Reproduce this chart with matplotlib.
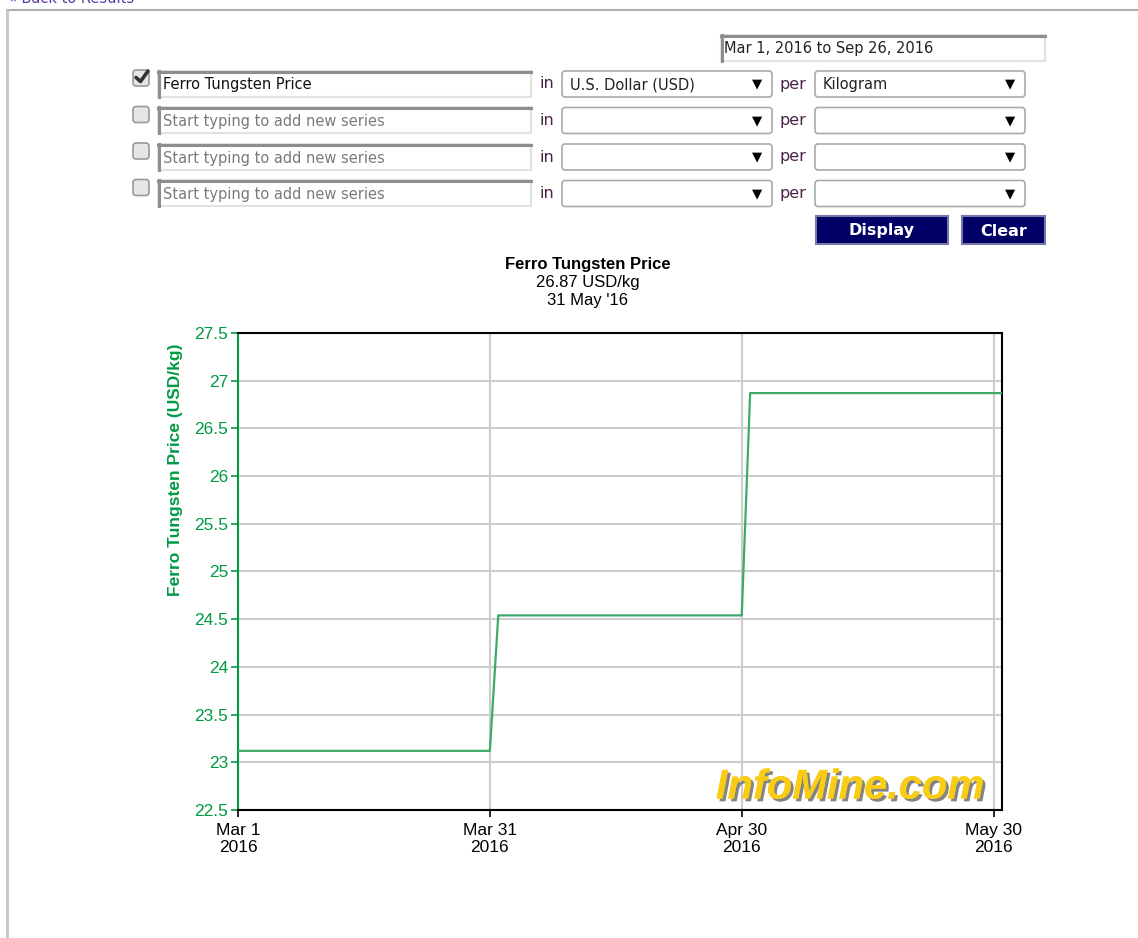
import matplotlib
matplotlib.use("Agg")
import matplotlib.pyplot as plt
import matplotlib.patheffects as pe
from matplotlib.patches import Rectangle, FancyBboxPatch
import pandas as pd

''' --------------- data --------------- '''
dates = pd.to_datetime(["2016-03-01", "2016-03-31", "2016-04-01",
                        "2016-04-30", "2016-05-01", "2016-05-31"])
prices = [23.12, 23.12, 24.54, 24.54, 26.87, 26.87]

tick_dates = pd.to_datetime(["2016-03-01", "2016-03-31", "2016-04-30", "2016-05-30"])
tick_labels = ["Mar 1\n2016", "Mar 31\n2016", "Apr 30\n2016", "May 30\n2016"]
y_ticks = [22.5, 23, 23.5, 24, 24.5, 25, 25.5, 26, 26.5, 27, 27.5]
y_labels = ["22.5", "23", "23.5", "24", "24.5", "25", "25.5", "26", "26.5", "27", "27.5"]

series_names = ["Ferro Tungsten Price", "Start typing to add new series",
                "Start typing to add new series", "Start typing to add new series"]
currencies = ["U.S. Dollar (USD)", "", "", ""]
units = ["Kilogram", "", "", ""]
checked = [True, False, False, False]
date_range = "Mar 1, 2016 to Sep 26, 2016"

GREEN = "#009a44"
LINE = "#3fa96a"
FORM_FONT = "DejaVu Sans"
CHART_FONT = "Liberation Sans"

W, H = 1138, 938
fig = plt.figure(figsize=(W / 100, H / 100), dpi=100)

''' --------------- page / form (pixel coords) --------------- '''
bg = fig.add_axes([0, 0, 1, 1])
bg.set_xlim(0, W)
bg.set_ylim(H, 0)
bg.axis("off")

# link at the very top, cut by the page edge as in the screenshot
bg.text(8, 6, "\u00ab Back to Results", fontsize=10.5, color="#5b3aa8",
        family=FORM_FONT, va="bottom", clip_on=True)
bg.plot([7, W], [10, 10], color="#b0b0b0", lw=1.5)
bg.plot([7.5, 7.5], [10, H], color="#c4c4c4", lw=2)


def inset_box(x0, y0, x1, y1):
    bg.add_patch(Rectangle((x0, y0), x1 - x0, y1 - y0, fc="white",
                           ec="#e2e2e2", lw=1.5))
    bg.plot([x0, x1], [y0 + 1, y0 + 1], color="#8e8e8e", lw=2.2)
    bg.plot([x0 + 1, x0 + 1], [y0, y1], color="#8e8e8e", lw=2.2)


def select_box(x0, y0, x1, y1, label):
    bg.add_patch(FancyBboxPatch((x0, y0), x1 - x0, y1 - y0,
                                boxstyle="round,pad=0,rounding_size=3",
                                fc="white", ec="#a9a9a9", lw=1.2))
    if label:
        bg.text(x0 + 8, (y0 + y1) / 2 + 1, label, fontsize=10.5, color="#222222",
                family=FORM_FONT, va="center")
    bg.text(x1 - 15, (y0 + y1) / 2, "\u25bc", fontsize=9.5, color="black",
            family="DejaVu Sans", va="center", ha="center")


# date range box
inset_box(721, 35, 1045, 61)
bg.text(724, 48, date_range, fontsize=10.5, color="#222222",
        family=FORM_FONT, va="center")

row_y = [84, 120.5, 157, 193.5]
for i, yc in enumerate(row_y):
    # checkbox
    bg.add_patch(FancyBboxPatch((133, yc - 14), 16, 16,
                                boxstyle="round,pad=0,rounding_size=3",
                                fc="#e6e6e6", ec="#9a9a9a", lw=1.2))
    if checked[i]:
        bg.plot([136, 140.5, 148], [yc - 6.5, yc - 2.5, yc - 13],
                color="#333333", lw=2.6, solid_capstyle="round")
    # series input
    inset_box(158, yc - 13, 531, yc + 13)
    bg.text(163, yc + 1, series_names[i], fontsize=10.5,
            color="#111111" if checked[i] else "#7a7a7a",
            family=FORM_FONT, va="center")
    bg.text(540, yc, "in", fontsize=11.5, color="#4a2448", family=FORM_FONT, va="center")
    select_box(562, yc - 13, 772, yc + 13, currencies[i])
    bg.text(780, yc, "per", fontsize=11.5, color="#4a2448", family=FORM_FONT, va="center")
    select_box(815, yc - 13, 1025, yc + 13, units[i])

# buttons
for x0, x1, lab in [(816, 948, "Display"), (962, 1045, "Clear")]:
    bg.add_patch(Rectangle((x0, 216), x1 - x0, 28, fc="#000066",
                           ec="#7777aa", lw=1.5))
    bg.text((x0 + x1) / 2, 231, lab, fontsize=11.5, color="white",
            weight="bold", family=FORM_FONT, ha="center", va="center")

# chart title
bg.text(588, 264, "Ferro Tungsten Price", fontsize=12, weight="bold",
        family=CHART_FONT, ha="center", va="center")
bg.text(588, 283, "26.87 USD/kg", fontsize=12, family=CHART_FONT,
        ha="center", va="center")
bg.text(588, 301, "31 May '16", fontsize=12, family=CHART_FONT,
        ha="center", va="center")

''' --------------- chart --------------- '''
ax = fig.add_axes([238 / W, 1 - 810 / H, (1002 - 238) / W, (810 - 333) / H])
ax.set_facecolor("white")
ax.plot(dates, prices, color=LINE, lw=1.6, zorder=3)

ax.set_xlim(pd.Timestamp("2016-03-01"), pd.Timestamp("2016-05-31"))
ax.set_ylim(22.5, 27.5)
ax.set_xticks(tick_dates)
ax.set_xticklabels(tick_labels, fontsize=12.5, family=CHART_FONT)
ax.set_yticks(y_ticks)
ax.set_yticklabels(y_labels, fontsize=12.5, family=CHART_FONT, color=GREEN)
ax.tick_params(axis="x", length=5, width=1.2, color="black", pad=4)
ax.tick_params(axis="y", length=5, width=1.2, color=GREEN, pad=2)
ax.grid(True, color="#cccccc", lw=1.5, zorder=0)
ax.set_axisbelow(True)

for s in ["top", "right", "bottom"]:
    ax.spines[s].set_color("black")
    ax.spines[s].set_linewidth(1.5)
ax.spines["left"].set_color(GREEN)
ax.spines["left"].set_linewidth(1.5)

ax.set_ylabel("Ferro Tungsten Price (USD/kg)", fontsize=12.5, weight="bold",
              color=GREEN, family=CHART_FONT)
ax.yaxis.set_label_coords(-0.072, 0.713)

ax.text(0.801, 0.024, "InfoMine.com", transform=ax.transAxes, fontsize=30,
        weight="bold", style="italic", color="#f9cc16", family=CHART_FONT,
        ha="center", va="baseline", zorder=4,
        path_effects=[pe.withSimplePatchShadow(offset=(2, -2),
                                               shadow_rgbFace="#777777", alpha=0.9),
                      pe.Normal()])

fig.savefig("out.png", dpi=100)
